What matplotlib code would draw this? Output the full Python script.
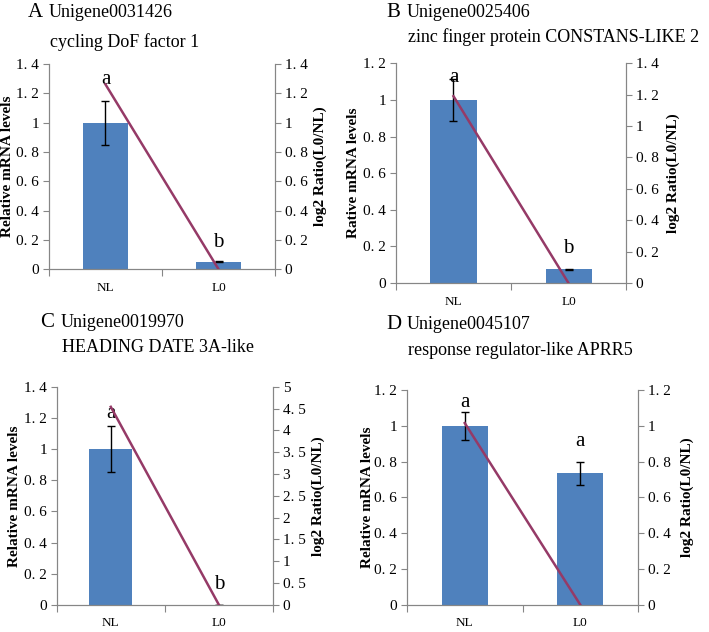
import matplotlib
matplotlib.use('Agg')
import matplotlib.pyplot as plt

plt.rcParams['font.family'] = ['Liberation Serif', 'DejaVu Serif']

# Data
categories = ['NL', 'L0']

panel_letters = ['A', 'B', 'C', 'D']
gene_ids = ['Unigene0031426', 'Unigene0025406', 'Unigene0019970', 'Unigene0045107']
gene_names = ['cycling DoF factor 1', 'zinc finger protein CONSTANS-LIKE 2',
              'HEADING DATE 3A-like', 'response regulator-like APRR5']
left_labels = ['Relative mRNA levels', 'Rative mRNA levels',
               'Relative mRNA levels', 'Relative mRNA levels']
right_label = 'log2 Ratio(L0/NL)'

bar_values = [[1.0, 0.05], [1.0, 0.075], [1.0, 0.0], [1.0, 0.735]]
bar_errors = [[0.15, 0.004], [0.115, 0.004], [0.145, 0.0], [0.078, 0.065]]
ratio_values = [[1.26, 0.0], [1.19, 0.0], [4.54, 0.0], [1.015, 0.0]]

left_max = [1.4, 1.2, 1.4, 1.2]
right_max = [1.4, 1.4, 5.0, 1.2]
right_step = [0.2, 0.2, 0.5, 0.2]

sig_letters = [['a', 'b'], ['a', 'b'], ['a', 'b'], ['a', 'a']]
sig_heights = [[1.29, 0.18], [1.12, 0.19], [1.23, 0.13], [1.13, 0.91]]

# layout (figure fractions)
axes_rects = [[0.069, 0.574, 0.319, 0.325],
              [0.5585, 0.552, 0.3245, 0.348],
              [0.080, 0.043, 0.305, 0.345],
              [0.574, 0.043, 0.326, 0.340]]
title_pos = [(0.039, 0.981), (0.545, 0.981), (0.056, 0.489), (0.545, 0.486)]
subtitle_y = [0.934, 0.941, 0.450, 0.446]
left_label_x = [0.011, 0.498, 0.021, 0.518]
right_label_x = [0.451, 0.949, 0.449, 0.969]

BAR = '#4F81BD'
LINE = '#953A67'
GRAY = '#868686'


def fmt(v):
    s = f'{v:g}'
    return s.replace('.', '. ')


fig = plt.figure(figsize=(7.09, 6.32), dpi=100)

for i in range(4):
    ax = fig.add_axes(axes_rects[i])
    x = list(range(len(categories)))
    ax.bar(x, bar_values[i], width=0.4, color=BAR, zorder=2)
    ax.errorbar(x, bar_values[i], yerr=bar_errors[i], fmt='none', ecolor='black',
                elinewidth=1.0, capsize=2.8, capthick=1.0, zorder=3)
    ax.set_xlim(-0.5, 1.5)
    ax.set_ylim(0, left_max[i])
    n = int(round(left_max[i] / 0.2))
    lt = [round(k * 0.2, 1) for k in range(n + 1)]
    ax.set_yticks(lt)
    ax.set_yticklabels([fmt(v) for v in lt])
    ax.set_xticks([-0.5, 0.5, 1.5])
    ax.set_xticklabels([])
    ax.set_xticks(x, minor=True)
    ax.set_xticklabels(categories, minor=True)
    ax.tick_params(axis='x', which='minor', length=0, pad=9, labelsize=9.5)
    ax.tick_params(axis='x', which='major', length=5, color=GRAY, direction='out')
    ax.tick_params(axis='y', length=4, color=GRAY, labelsize=11, pad=3)
    ax.spines['top'].set_visible(False)
    for s in ['left', 'right', 'bottom']:
        ax.spines[s].set_color(GRAY)

    ax2 = ax.twinx()
    ax2.plot(x, ratio_values[i], color=LINE, lw=1.8, zorder=4)
    ax2.set_ylim(0, right_max[i])
    m = int(round(right_max[i] / right_step[i]))
    rt = [round(k * right_step[i], 1) for k in range(m + 1)]
    ax2.set_yticks(rt)
    ax2.set_yticklabels([fmt(v) for v in rt])
    ax2.tick_params(axis='y', length=4, color=GRAY, labelsize=11, pad=3)
    ax2.spines['top'].set_visible(False)
    for s in ['left', 'right', 'bottom']:
        ax2.spines[s].set_color(GRAY)

    for j in range(2):
        ax.text(x[j], sig_heights[i][j], sig_letters[i][j], ha='center', va='center',
                fontsize=15, zorder=5)

    tx, ty = title_pos[i]
    fig.text(tx, ty, panel_letters[i], fontsize=15, va='center', ha='left')
    fig.text(tx + 0.029, ty, gene_ids[i], fontsize=13, va='center', ha='left')
    fig.text(tx + 0.031, subtitle_y[i], gene_names[i], fontsize=13, va='center', ha='left')

    yc = axes_rects[i][1] + axes_rects[i][3] / 2
    fig.text(left_label_x[i], yc, left_labels[i], rotation=90, fontsize=11,
             fontweight='bold', va='center', ha='center')
    fig.text(right_label_x[i], yc, right_label, rotation=90, fontsize=11,
             fontweight='bold', va='center', ha='center')

fig.savefig('out.png', dpi=100)
